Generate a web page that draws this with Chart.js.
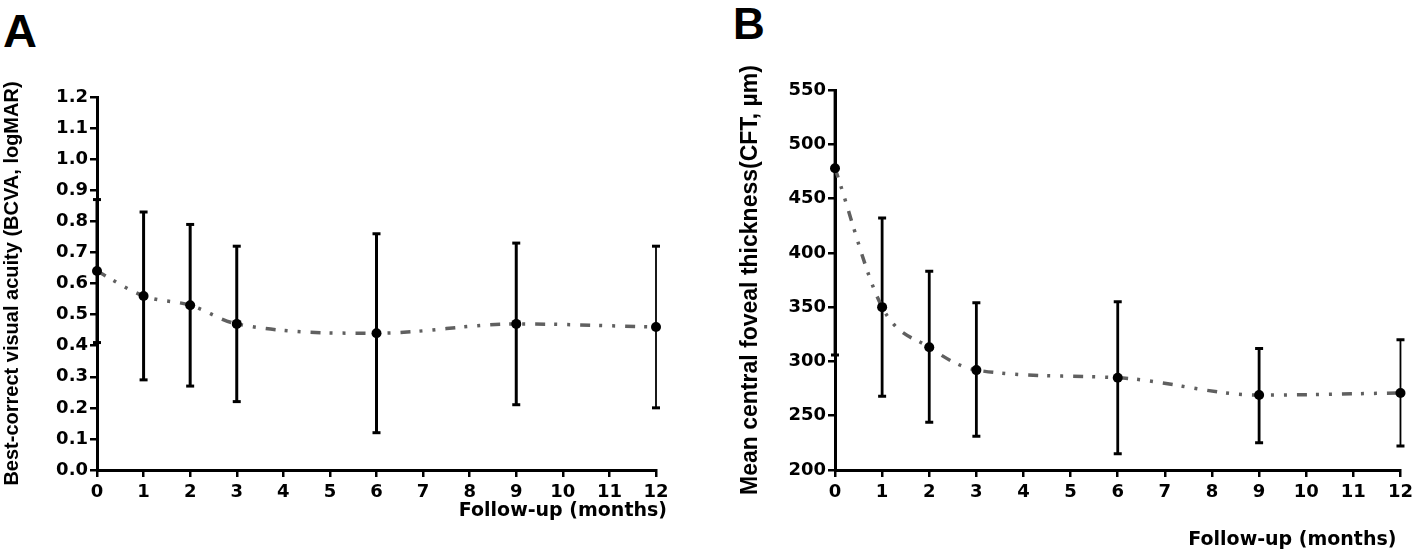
<!DOCTYPE html>
<html>
<head>
<meta charset="utf-8">
<script src="https://cdn.jsdelivr.net/npm/chart.js@4.4.1/dist/chart.umd.min.js"></script>
<style>
html,body{margin:0;padding:0;background:#fff;}
body{width:1418px;height:553px;position:relative;overflow:hidden;font-family:"Liberation Sans",Arial,sans-serif;}
.panel{position:absolute;top:0;height:553px;}
.lbl{position:absolute;font-weight:bold;line-height:1;color:#000;}
</style>
</head>
<body>
<div class="lbl" style="left:3px;top:7px;font-size:47px;">A</div>
<div class="lbl" style="left:733px;top:2px;font-size:44px;">B</div>
<div class="panel" style="left:0;width:700px;"><canvas id="cA"></canvas></div>
<div class="panel" style="left:737px;width:681px;"><canvas id="cB"></canvas></div>
<script>
// ---- data ----
const months = [0, 1, 2, 3, 6, 9, 12];
const xTicks = [0, 1, 2, 3, 4, 5, 6, 7, 8, 9, 10, 11, 12];

const bcvaMean  = [0.64, 0.56, 0.53, 0.47, 0.44, 0.47, 0.46];
const bcvaLower = [0.41, 0.29, 0.27, 0.22, 0.12, 0.21, 0.20];
const bcvaUpper = [0.87, 0.83, 0.79, 0.72, 0.76, 0.73, 0.72];
const yTicksA = [0.0, 0.1, 0.2, 0.3, 0.4, 0.5, 0.6, 0.7, 0.8, 0.9, 1.0, 1.1, 1.2];
const yLabelsA = ['0.0','0.1','0.2','0.3','0.4','0.5','0.6','0.7','0.8','0.9','1.0','1.1','1.2'];

const cftMean  = [478, 350, 313, 292, 285, 269, 271];
const cftLower = [306, 268, 244, 231, 215, 225, 222];
const cftUpper = [650, 432, 383, 354, 355, 312, 320];
const yTicksB = [200, 250, 300, 350, 400, 450, 500, 550];
const yLabelsB = ['200','250','300','350','400','450','500','550'];

const titleYA = 'Best-correct visual acuity (BCVA, logMAR)';
const titleYB = 'Mean central foveal thickness(CFT, \u00b5m)';
const titleX = 'Follow-up (months)';

// ---- styling ----
Chart.defaults.font.family = '"Liberation Sans", Arial, sans-serif';
Chart.defaults.color = '#000';
const wideFont = '"DejaVu Sans", "Liberation Sans", Arial, sans-serif';

function errorBarPlugin(lower, upper, widths) {
  return {
    id: 'errorBars',
    beforeDatasetsDraw(chart) {
      const {ctx, chartArea: a, scales: {x, y}} = chart;
      ctx.save();
      ctx.beginPath();
      ctx.rect(a.left - 12, a.top, a.right - a.left + 24, a.bottom - a.top);
      ctx.clip();
      ctx.strokeStyle = '#000';
      months.forEach((m, i) => {
        const px = x.getPixelForValue(m);
        const y1 = y.getPixelForValue(lower[i]);
        const y2 = y.getPixelForValue(upper[i]);
        ctx.lineWidth = widths[i];
        ctx.beginPath(); ctx.moveTo(px, y1); ctx.lineTo(px, y2); ctx.stroke();
        ctx.lineWidth = 3;
        [y1, y2].forEach(yy => {
          ctx.beginPath(); ctx.moveTo(px - 4, yy); ctx.lineTo(px + 4, yy); ctx.stroke();
        });
      });
      ctx.restore();
    }
  };
}

function xTitlePlugin(text, dx, yPos) {
  return {
    id: 'xTitle',
    afterDraw(chart) {
      const ctx = chart.ctx;
      ctx.save();
      ctx.font = 'bold 19px ' + wideFont;
      ctx.fillStyle = '#000';
      ctx.textAlign = 'right';
      ctx.textBaseline = 'middle';
      ctx.fillText(text, chart.chartArea.right + dx, yPos);
      ctx.restore();
    }
  };
}

function makeChart(id, cfg) {
  return new Chart(document.getElementById(id), {
    type: 'line',
    data: {
      datasets: [{
        data: months.map((m, i) => ({x: m, y: cfg.mean[i]})),
        borderColor: '#606060',
        borderWidth: 3.5,
        borderDash: [10, 9, 3, 10, 3, 10],
        cubicInterpolationMode: 'monotone',
        pointRadius: 5,
        pointBackgroundColor: '#000',
        pointBorderWidth: 0,
        fill: false,
        clip: false
      }]
    },
    options: {
      responsive: true,
      maintainAspectRatio: false,
      animation: false,
      events: [],
      layout: {padding: cfg.padding},
      plugins: {legend: {display: false}, tooltip: {enabled: false}},
      scales: {
        x: {
          type: 'linear', min: 0, max: 12,
          afterBuildTicks: s => { s.ticks = xTicks.map(v => ({value: v})); },
          afterFit: s => { s.height = 83; },
          ticks: {color: '#000', font: {family: wideFont, size: 18, weight: 'bold'}, padding: 5, maxRotation: 0, autoSkip: false,
                  callback: v => String(v)},
          grid: {drawOnChartArea: false, drawTicks: true, tickLength: 7, color: '#000', lineWidth: 2.5},
          border: {display: true, color: '#000', width: 3}
        },
        y: {
          type: 'linear', min: cfg.yMin, max: cfg.yMax,
          afterBuildTicks: s => { s.ticks = cfg.yTicks.map(v => ({value: v})); },
          afterFit: s => { s.width = cfg.yWidth; },
          ticks: {color: '#000', font: {family: wideFont, size: 18, weight: 'bold'}, padding: 2, autoSkip: false,
                  callback: (v, i) => cfg.yLabels[i]},
          grid: {drawOnChartArea: false, drawTicks: true, tickLength: 7, color: '#000', lineWidth: 2.5},
          border: {display: true, color: '#000', width: 3},
          title: {display: true, text: cfg.yTitle, color: '#000', font: {size: cfg.yTitleSize, weight: 'bold'}, padding: 0}
        }
      }
    },
    plugins: [errorBarPlugin(cfg.lower, cfg.upper, cfg.barWidths), xTitlePlugin(titleX, cfg.xTitleDx, cfg.xTitleY)]
  });
}

makeChart('cA', {
  mean: bcvaMean, lower: bcvaLower, upper: bcvaUpper,
  yMin: 0, yMax: 1.2, yTicks: yTicksA, yLabels: yLabelsA, yTitle: titleYA, yTitleSize: 20,
  yWidth: 97, padding: {left: 0, top: 97, right: 44, bottom: 0},
  barWidths: [3, 3, 3, 3, 3, 3, 1.8], xTitleDx: 11, xTitleY: 511
});
makeChart('cB', {
  mean: cftMean, lower: cftLower, upper: cftUpper,
  yMin: 200, yMax: 550, yTicks: yTicksB, yLabels: yLabelsB, yTitle: titleYB, yTitleSize: 23,
  yWidth: 98, padding: {left: 0, top: 90, right: 14, bottom: 0},
  barWidths: [2.8, 2.8, 2.8, 2.8, 2.8, 2.8, 1.8], xTitleDx: -4, xTitleY: 540
});
</script>
</body>
</html>
